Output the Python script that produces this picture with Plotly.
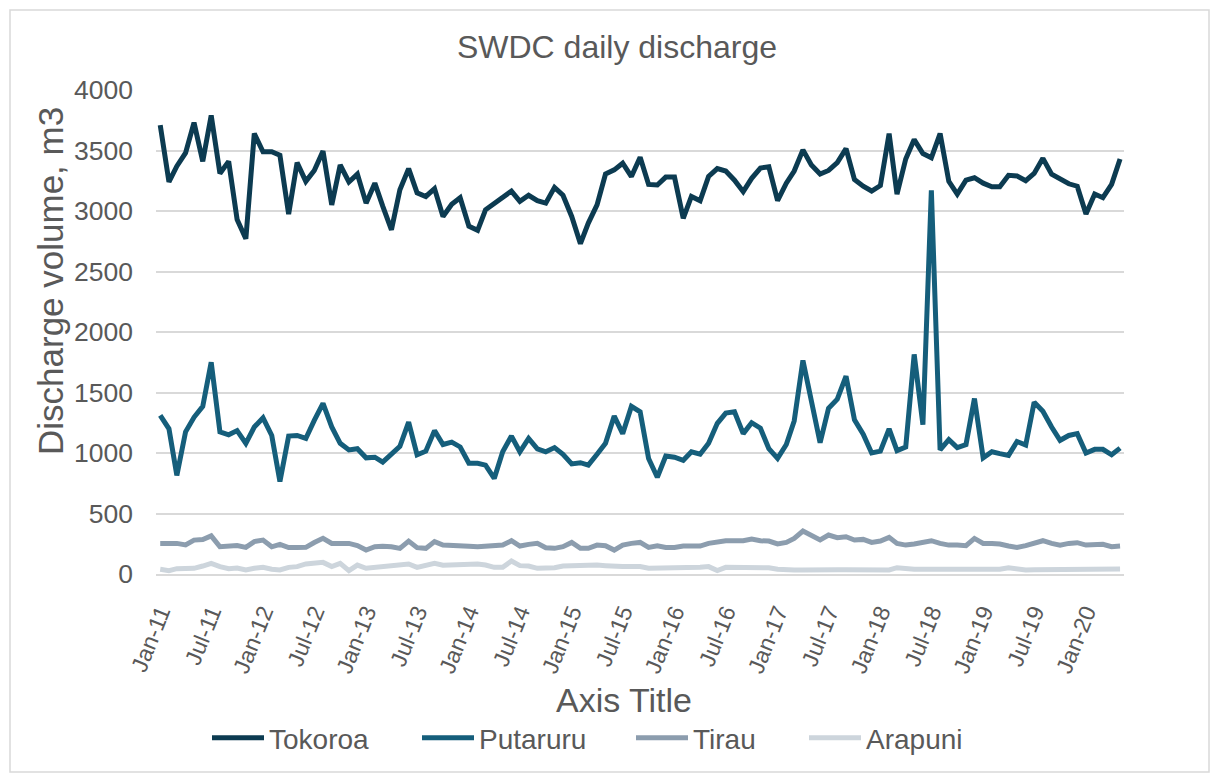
import pandas as pd
import plotly.graph_objects as go

# Monthly categories (Jan-2011 .. May-2020)
months = pd.date_range("2011-01-01", periods=113, freq="MS")

tokoroa = [3710, 3240, 3370, 3480, 3730, 3410, 3790, 3310, 3410, 2930, 2770, 3640, 3490, 3490, 3460, 2975,
           3400, 3245, 3335, 3495, 3050, 3380, 3240, 3305, 3065, 3230, 3040, 2845, 3175, 3350, 3150, 3120,
           3185, 2955, 3055, 3110, 2875, 2840, 3010, 3060, 3115, 3165, 3080, 3130, 3085, 3065, 3195, 3130,
           2955, 2730, 2900, 3050, 3305, 3340, 3395, 3285, 3445, 3220, 3215, 3280, 3280, 2940, 3120, 3085,
           3285, 3350, 3330, 3255, 3160, 3270, 3355, 3365, 3085, 3230, 3330, 3505, 3380, 3305, 3335, 3400,
           3515, 3260, 3205, 3165, 3210, 3640, 3140, 3430, 3590, 3475, 3440, 3640, 3245, 3140, 3255, 3275,
           3230, 3200, 3200, 3295, 3290, 3250, 3310, 3435, 3305, 3265, 3225, 3205, 2975, 3140, 3110, 3220,
           3430]

putaruru = [1310, 1200, 815, 1175, 1295, 1385, 1750, 1175, 1150, 1185, 1080, 1215, 1290, 1145, 765, 1140,
            1145, 1120, 1270, 1410, 1215, 1080, 1025, 1035, 960, 965, 925, 990, 1055, 1255, 985, 1015,
            1185, 1070, 1090, 1050, 915, 915, 900, 790, 1010, 1140, 1010, 1120, 1035, 1010, 1045, 990,
            910, 920, 900, 990, 1080, 1305, 1160, 1385, 1340, 955, 800, 975, 965, 940, 1010, 990,
            1080, 1245, 1330, 1340, 1160, 1250, 1205, 1035, 955, 1070, 1265, 1765, 1420, 1085, 1370, 1445,
            1635, 1275, 1155, 1000, 1015, 1200, 1020, 1050, 1815, 1235, 3170, 1025, 1110, 1045, 1070, 1450,
            960, 1010, 995, 980, 1095, 1065, 1420, 1345, 1215, 1105, 1145, 1160, 1000, 1030, 1030, 985,
            1040]

tirau = [253, 253, 253, 240, 280, 285, 315, 225, 230, 235, 220, 268, 280, 225, 245, 218,
         218, 220, 260, 295, 253, 253, 253, 235, 198, 225, 230, 225, 212, 272, 218, 212,
         268, 240, 240, 240, 230, 226, 231, 231, 239, 275, 231, 245, 253, 217, 212, 226,
         261, 212, 212, 239, 234, 198, 239, 253, 261, 220, 234, 220, 220, 231, 231, 231,
         253, 267, 275, 275, 275, 289, 275, 272, 248, 261, 294, 355, 314, 281, 322, 300,
         308, 281, 286, 261, 272, 303, 253, 239, 248, 267, 275, 253, 239, 239, 234, 294,
         253, 253, 248, 231, 220, 234, 253, 275, 253, 239, 253, 259, 239, 239, 245, 226,
         231]

arapuni = [39, 28, 44, 44, 47, 66, 88, 61, 44, 50, 33, 47, 55, 39, 33, 55,
           61, 83, 88, 96, 61, 88, 28, 74, 47, 55, 61, 66, 83, 83, 55, 74,
           88, 72, 74, 72, 80, 83, 74, 55, 55, 107, 69, 66, 47, 47, 52, 66,
           69, 69, 74, 74, 69, 61, 61, 61, 61, 47, 47, 55, 55, 55, 55, 55,
           61, 28, 55, 55, 55, 61, 55, 52, 39, 33, 33, 33, 36, 36, 36, 36,
           36, 36, 36, 36, 33, 33, 52, 42, 39, 39, 39, 36, 39, 39, 39, 44,
           39, 36, 39, 52, 39, 33, 36, 36, 39, 39, 36, 33, 36, 39, 39, 42,
           42]

series = [
    ("Tokoroa", tokoroa, "#0C3B51"),
    ("Putaruru", putaruru, "#155E7B"),
    ("Tirau", tirau, "#8C9DAE"),
    ("Arapuni", arapuni, "#CDD5DC"),
]
# screen x where each legend entry's line symbol starts
legend_x = [212, 422, 636, 809]

FONT = "Liberation Sans, Arial, sans-serif"
TXT = "#595959"

# page body has an 8px margin: figure coords = screen coords - 8
OFF = 8
W, H = 1220 - 2 * OFF, 782 - 2 * OFF
# plot area (screen pixels)
L, R, T, B = 156, 1124, 90, 574
PW, PH = R - L, B - T


def px(x):
    return (x - L) / PW


def py(y):
    return (B - y) / PH


fig = go.Figure()
legend_layout = {}
for k, (name, vals, col) in enumerate(series):
    lg = "legend" if k == 0 else f"legend{k + 1}"
    fig.add_trace(go.Scatter(x=months, y=vals, name=name, mode="lines", legend=lg,
                             line=dict(color=col, width=5, shape="linear")))
    legend_layout[lg] = dict(orientation="h", x=px(legend_x[k] - 5), xanchor="left",
                             y=py(738), yanchor="middle",
                             font=dict(family=FONT, size=28, color=TXT),
                             itemwidth=52, bgcolor="rgba(0,0,0,0)")

fig.update_layout(
    width=W, height=H,
    margin=dict(l=L - OFF, r=W - (R - OFF), t=T - OFF, b=H - (B - OFF), autoexpand=False),
    paper_bgcolor="white", plot_bgcolor="white",
    font=dict(family=FONT, color=TXT, size=26),
    title=dict(text="SWDC daily discharge", x=(617 - OFF) / W, xref="container", xanchor="center",
               y=1 - (47 - OFF) / H, yref="container", yanchor="middle",
               font=dict(family=FONT, size=32, color=TXT)),
    showlegend=True,
    xaxis=dict(type="date", range=["2010-12-17", "2020-05-15"], automargin=False,
               tick0="2011-01-01", dtick="M6", tickformat="%b-%y",
               tickangle=-68, showgrid=False, zeroline=False,
               showline=True, linecolor="#D9D9D9", linewidth=1.5,
               ticks="", ticklabelstandoff=14,
               tickfont=dict(family=FONT, size=23, color=TXT)),
    yaxis=dict(range=[0, 4000], dtick=500, showgrid=True, gridcolor="#D9D9D9", gridwidth=1.5,
               automargin=False,
               zeroline=False, showline=False, ticks="", ticklabelstandoff=22,
               tickfont=dict(family=FONT, size=26.5, color=TXT)),
    annotations=[
        dict(text="Discharge volume, m3", xref="paper", yref="paper",
             x=px(50), y=py(281), xanchor="center", yanchor="middle",
             textangle=-90, showarrow=False, font=dict(family=FONT, size=35, color=TXT)),
        dict(text="Axis Title", xref="paper", yref="paper",
             x=px(624), y=py(700), xanchor="center", yanchor="middle",
             showarrow=False, font=dict(family=FONT, size=34, color=TXT)),
    ],
    shapes=[
        dict(type="rect", xref="paper", yref="paper",
             x0=px(10), x1=px(1209), y0=py(772), y1=py(10),
             line=dict(color="#D9D9D9", width=1.5), fillcolor="rgba(0,0,0,0)", layer="below"),
    ],
    **legend_layout,
)

fig.write_html("out.html")
